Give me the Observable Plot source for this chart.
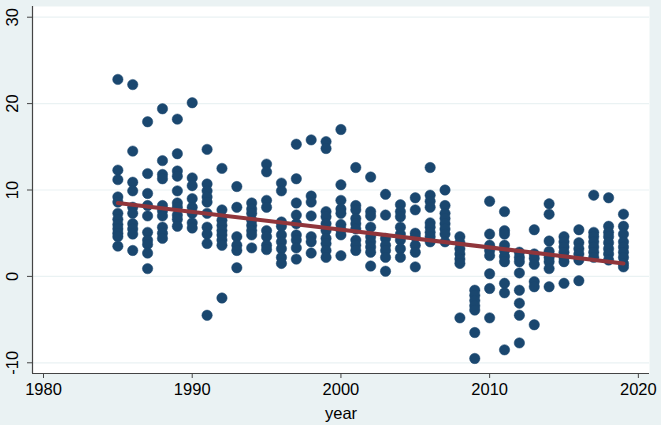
<!DOCTYPE html>
<html>
<head>
<meta charset="utf-8">
<script src="https://cdn.jsdelivr.net/npm/d3@7"></script>
<script src="https://cdn.jsdelivr.net/npm/@observablehq/plot@0.6"></script>
<style>
  html, body { margin: 0; padding: 0; background: #EAF2F3; }
  #chart svg { display: block; }
</style>
</head>
<body>
<div id="chart"></div>
<script>
const years = [1985,1986,1987,1988,1989,1990,1991,1992,1993,1994,1995,1996,1997,1998,1999,2000,2001,2002,2003,2004,2005,2006,2007,2008,2009,2010,2011,2012,2013,2014,2015,2016,2017,2018,2019];
const values = [
  [22.8, 12.3, 11.2, 9.2, 8.6, 7.3, 6.6, 6.0, 5.5, 5.0, 4.6, 3.5],
  [22.2, 14.5, 10.9, 9.9, 8.0, 7.3, 6.1, 5.5, 4.9, 3.0],
  [17.9, 11.9, 9.6, 8.2, 7.0, 5.1, 4.2, 3.7, 2.7, 0.9],
  [19.4, 13.4, 11.8, 11.3, 8.2, 7.6, 7.0, 5.7, 5.0, 4.4],
  [18.2, 14.2, 12.2, 11.6, 9.9, 8.5, 8.0, 7.1, 6.6, 5.8],
  [20.1, 11.4, 10.5, 9.0, 8.0, 7.3, 6.2, 5.6],
  [14.7, 10.7, 9.9, 9.2, 8.6, 7.3, 5.7, 4.9, 3.8, -4.5],
  [12.5, 7.7, 6.5, 5.9, 5.3, 4.8, 4.2, 3.6, -2.5],
  [10.4, 8.0, 4.6, 3.6, 3.0, 1.0],
  [8.5, 7.8, 7.3, 6.5, 5.9, 5.3, 4.8, 3.3],
  [13.0, 12.1, 8.8, 8.0, 5.3, 4.6, 3.6, 3.1],
  [10.8, 9.9, 6.3, 5.8, 4.8, 4.0, 3.2, 2.2, 1.5],
  [15.3, 11.3, 8.5, 7.1, 6.1, 4.8, 4.2, 3.3, 2.0],
  [15.8, 9.3, 8.6, 7.0, 4.6, 4.0, 2.7],
  [15.6, 14.8, 7.5, 6.9, 6.1, 5.3, 4.4, 3.8, 3.0, 2.2],
  [17.0, 10.6, 8.8, 7.8, 7.3, 6.0, 5.4, 4.8, 2.4],
  [12.6, 8.2, 7.7, 6.7, 6.1, 5.5, 4.2, 3.6, 3.0],
  [11.5, 7.5, 7.0, 5.7, 4.6, 4.0, 3.4, 2.8, 1.2],
  [9.5, 7.1, 4.4, 3.6, 3.0, 2.2, 0.6],
  [8.3, 7.5, 6.9, 5.7, 4.9, 4.2, 3.2, 2.2],
  [9.1, 7.7, 5.0, 4.6, 3.6, 2.8, 1.1],
  [12.6, 9.4, 8.7, 8.0, 6.2, 5.7, 5.1, 4.6, 4.0],
  [10.0, 8.2, 7.3, 6.7, 6.1, 5.5, 4.9, 4.0],
  [4.6, 3.9, 3.2, 2.6, 2.0, 1.5, -4.8],
  [-1.6, -2.2, -2.8, -3.4, -3.9, -6.5, -9.5],
  [8.7, 4.9, 3.6, 3.0, 2.4, 0.3, -1.4, -4.8],
  [7.5, 5.3, 4.9, 3.6, 3.0, 2.3, 1.7, -0.8, -1.9, -8.5],
  [2.8, 2.2, 1.7, 0.4, -1.6, -3.1, -4.5, -7.7],
  [5.4, 2.6, 2.1, 1.4, -0.6, -1.2, -5.6],
  [8.4, 7.2, 4.1, 2.9, 2.2, 1.7, 0.9, -1.2],
  [4.6, 4.0, 3.4, 2.8, 2.2, 1.7, -0.8],
  [5.4, 3.9, 3.2, 2.6, 1.9, -0.5],
  [9.4, 5.1, 4.6, 4.0, 3.4, 2.8, 2.2],
  [9.1, 5.8, 5.1, 4.6, 3.9, 3.2, 2.6, 1.9],
  [7.2, 5.8, 4.9, 4.0, 3.4, 2.8, 2.2, 1.5, 1.1]
];
const fitYears = [1985, 2019];
const fitValues = [8.5, 1.5];
const xTicks = [1980, 1990, 2000, 2010, 2020];
const yTicks = [-10, 0, 10, 20, 30];

const points = years.flatMap((yr, i) => values[i].map(v => ({year: yr, value: v})));
const fit = fitYears.map((yr, i) => ({year: yr, value: fitValues[i]}));

const xDomain = [1979.26, 2020.75];
const yDomain = [-11.24, 31.24];
const navy = "#1a476f";
const maroon = "#90353b";
const bg = "#EAF2F3";
const axisColor = "#444";

const chart = Plot.plot({
  width: 661,
  height: 425,
  marginLeft: 32,
  marginRight: 12,
  marginTop: 6,
  marginBottom: 52,
  style: {background: bg, fontFamily: "Liberation Sans, Arial, sans-serif", fontSize: "16px", color: "#000"},
  x: {domain: xDomain},
  y: {domain: yDomain},
  marks: [
    Plot.frame({fill: "white", stroke: "none"}),
    Plot.gridY(yTicks, {stroke: bg, strokeOpacity: 1, strokeWidth: 1.2}),
    Plot.dot(points, {x: "year", y: "value", r: 5.2, fill: navy, stroke: navy, strokeWidth: 0.5}),
    Plot.line(fit, {x: "year", y: "value", stroke: maroon, strokeWidth: 4}),
    Plot.ruleX([xDomain[0]], {stroke: axisColor, strokeWidth: 1.2}),
    Plot.ruleY([yDomain[0]], {stroke: axisColor, strokeWidth: 1.2}),
    Plot.axisX(xTicks, {tickSize: 5, tickPadding: 5, fontSize: 16.5, stroke: axisColor, label: null, fill: "#000", tickFormat: d => String(d)}),
    Plot.axisY(yTicks, {tickSize: 5, tickFormat: () => "", stroke: axisColor, label: null}),
    Plot.text(yTicks, {y: d => d, text: d => String(d), frameAnchor: "left", dx: -19.5, rotate: -90, fontSize: 16.5, fill: "#000", textAnchor: "middle", lineAnchor: "middle"}),
    Plot.text(["year"], {frameAnchor: "bottom", dy: 40, fontSize: 16.5, fill: "#000", lineAnchor: "middle"})
  ]
});
document.getElementById("chart").appendChild(chart);
</script>
</body>
</html>
